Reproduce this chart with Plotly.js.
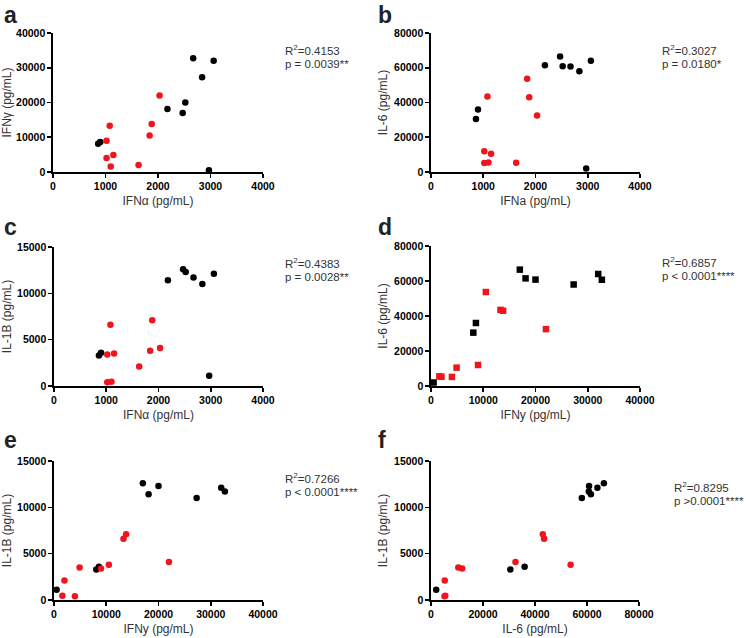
<!DOCTYPE html>
<html><head><meta charset="utf-8">
<script src="https://cdn.plot.ly/plotly-3.0.1.min.js"></script>
<style>body{margin:0;background:#fff}#c{width:746px;height:638px}</style>
</head><body><div id="c"></div>
<script>
// Per-subject values (black group and red group)
var blackIFNa = [860, 900, 2180, 2470, 2520, 2670, 2840, 2970, 3060];
var blackIFNg = [8100, 8600, 18100, 17000, 20000, 32700, 27300, 500, 32000];
var blackIL6  = [30500, 36000, 61500, 66500, 60800, 60700, 58000, 2000, 64000];
var blackIL1B = [3300, 3600, 11400, 12600, 12300, 11700, 11000, 1100, 12100];

var redIFNa = [1020, 1080, 1020, 1150, 1100, 1630, 1840, 1880, 2030];
var redIFNg = [9000, 13300, 4000, 4900, 1600, 2000, 10500, 13800, 22000];
var redIL6  = [12000, 43500, 5200, 10500, 5500, 5300, 53700, 43000, 32500];
var redIL1B = [3400, 6600, 400, 3500, 450, 2100, 3800, 7100, 4100];

var panelLetters = ["a", "b", "c", "d", "e", "f"];
var xTitles = ["IFNα (pg/mL)", "IFNa (pg/mL)", "IFNα (pg/mL)", "IFNy (pg/mL)", "IFNy (pg/mL)", "IL-6 (pg/mL)"];
var yTitles = ["IFNγ (pg/mL)", "IL-6 (pg/mL)", "IL-1B (pg/mL)", "IL-6 (pg/mL)", "IL-1B (pg/mL)", "IL-1B (pg/mL)"];
var r2Labels = ["R<sup>2</sup>=0.4153", "R<sup>2</sup>=0.3027", "R<sup>2</sup>=0.4383", "R<sup>2</sup>=0.6857", "R<sup>2</sup>=0.7266", "R<sup>2</sup>=0.8295"];
var pLabels = ["p = 0.0039**", "p = 0.0180*", "p = 0.0028**", "p < 0.0001****", "p < 0.0001****", "p >0.0001****"];
var xMax = [4000, 4000, 4000, 40000, 40000, 80000];
var xDtick = [1000, 1000, 1000, 10000, 10000, 20000];
var yMax = [40000, 80000, 15000, 80000, 15000, 15000];
var yDtick = [10000, 20000, 5000, 20000, 5000, 5000];

var pairs = [
  [blackIFNa, blackIFNg, redIFNa, redIFNg],
  [blackIFNa, blackIL6, redIFNa, redIL6],
  [blackIFNa, blackIL1B, redIFNa, redIL1B],
  [blackIFNg, blackIL6, redIFNg, redIL6],
  [blackIFNg, blackIL1B, redIFNg, redIL1B],
  [blackIL6, blackIL1B, redIL6, redIL1B]
];
var symbols = ["circle", "circle", "circle", "square", "circle", "circle"];

// layout geometry (pixels)
var W = 746, H = 638;
var boxes = [
  [53, 263, 33, 172], [431, 640, 33, 172],
  [54, 263, 247, 386], [431, 640, 246, 386],
  [54, 263, 461, 600], [431, 639, 461, 600]
];
var letterPos = [[2, 15], [376, 15], [2, 227], [376, 227], [2, 440], [376, 440]];
var statPos = [[283, 50, 64], [660, 50, 64], [283, 263, 277], [660, 262, 276], [283, 478, 492], [672, 487, 501]];
function px(x) { return x / W; }
function py(y) { return 1 - y / H; }

var RED = "#f0141c";
var data = [], annotations = [];
var layout = {
  width: W, height: H, margin: {l: 0, r: 0, t: 0, b: 0},
  paper_bgcolor: "#fff", plot_bgcolor: "#fff", showlegend: false,
  font: {family: "Arial, 'Liberation Sans', sans-serif", color: "#222"}
};
for (var i = 0; i < 6; i++) {
  var s = i === 0 ? "" : String(i + 1);
  var p = pairs[i];
  var mk = function (c) { return {color: c, size: 6.5, symbol: symbols[i]}; };
  data.push({x: p[0], y: p[1], type: "scatter", mode: "markers", marker: mk("#000"), xaxis: "x" + s, yaxis: "y" + s, cliponaxis: false, hoverinfo: "x+y"});
  data.push({x: p[2], y: p[3], type: "scatter", mode: "markers", marker: mk(RED), xaxis: "x" + s, yaxis: "y" + s, cliponaxis: false, hoverinfo: "x+y"});
  var b = boxes[i];
  var common = {
    showline: true, linecolor: "#000", linewidth: 1.6, showgrid: false, zeroline: false,
    ticks: "outside", ticklen: 4, tickwidth: 1.6, tickcolor: "#000",
    tickformat: "d", tickfont: {size: 10.5, color: "#000", weight: "bold"}, fixedrange: true
  };
  layout["xaxis" + s] = Object.assign({}, common, {
    domain: [px(b[0]), px(b[1])], anchor: "y" + s, range: [0, xMax[i]], dtick: xDtick[i], tick0: 0,
    title: {text: xTitles[i], font: {size: 12, color: "#333"}, standoff: 5}
  });
  layout["yaxis" + s] = Object.assign({}, common, {
    domain: [py(b[3]), py(b[2])], anchor: "x" + s, range: [0, yMax[i]], dtick: yDtick[i], tick0: 0,
    title: {text: yTitles[i], font: {size: 12, color: "#333"}, standoff: 4}
  });
  annotations.push({xref: "paper", yref: "paper", x: px(letterPos[i][0]), y: py(letterPos[i][1]), xanchor: "left", yanchor: "middle",
    text: panelLetters[i], showarrow: false, font: {size: 23, color: "#222", weight: "bold"}});
  annotations.push({xref: "paper", yref: "paper", x: px(statPos[i][0]), y: py(statPos[i][1]), xanchor: "left", yanchor: "middle",
    text: r2Labels[i], showarrow: false, font: {size: 11.5, color: "#333"}});
  annotations.push({xref: "paper", yref: "paper", x: px(statPos[i][0]), y: py(statPos[i][2]), xanchor: "left", yanchor: "middle",
    text: pLabels[i], showarrow: false, font: {size: 11.5, color: "#333"}});
}
layout.annotations = annotations;
Plotly.newPlot("c", data, layout, {staticPlot: true, displayModeBar: false});
</script></body></html>
